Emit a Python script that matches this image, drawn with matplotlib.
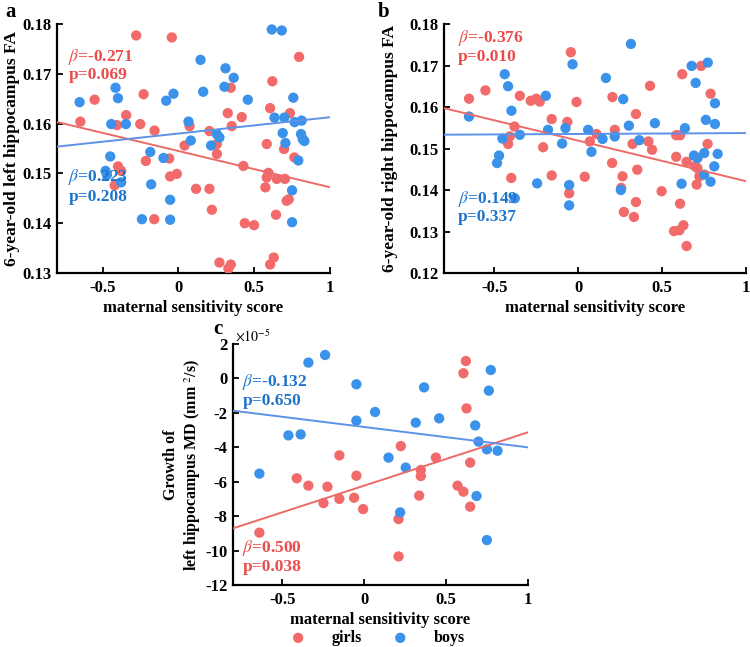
import matplotlib
matplotlib.use("Agg")
import matplotlib.pyplot as plt
import numpy as np

plt.rcParams['font.family'] = ['Liberation Serif', 'DejaVu Serif']
plt.rcParams['mathtext.fontset'] = 'stix'

# ---------------- data ----------------
# Panel a: 6-year-old left hippocampus FA
a_girls_x = [-0.278, -0.043, 0.796, -0.552, -0.229, -0.646, -0.344, -0.405, -0.251, -0.157,
             0.346, 0.326, 0.418, 0.352, 0.620, 0.605, 0.074, 0.205, 0.041, 0.254,
             0.254, 0.736, 0.583, 0.697, 0.765, -0.214, -0.060, -0.398, -0.377, -0.420,
             -0.010, -0.054, -0.159, 0.117, 0.205, 0.221, 0.429, 0.594, 0.583, 0.574,
             0.649, 0.703, 0.714, 0.728, 0.644, 0.438, 0.499, 0.271, 0.346, 0.330,
             0.605, 0.629]
a_girls_y = [0.1777, 0.1773, 0.1734, 0.1648, 0.1659, 0.1604, 0.1617, 0.1597, 0.1599, 0.1586,
             0.1672, 0.1621, 0.1613, 0.1595, 0.1685, 0.1631, 0.1595, 0.1585, 0.1556, 0.1559,
             0.1539, 0.1621, 0.1559, 0.1549, 0.1532, 0.1525, 0.1530, 0.1514, 0.1505, 0.1476,
             0.1499, 0.1494, 0.1408, 0.1469, 0.1469, 0.1427, 0.1515, 0.1501, 0.1492, 0.1472,
             0.1489, 0.1489, 0.1445, 0.1448, 0.1417, 0.1400, 0.1396, 0.1321, 0.1317, 0.1309,
             0.1317, 0.1331]
a_boys_x = [0.616, 0.682, 0.146, 0.311, 0.365, 0.304, -0.414, -0.398, -0.651, -0.080,
            -0.032, 0.164, 0.458, 0.758, -0.442, -0.346, 0.067, 0.082, 0.254, 0.271,
            0.216, 0.634, 0.699, 0.767, 0.813, 0.688, 0.706, 0.809, 0.820, 0.831,
            0.791, -0.449, -0.185, -0.098, -0.480, -0.471, -0.377, -0.179, -0.054, -0.240,
            -0.054, 0.750, 0.750]
a_boys_y = [0.1789, 0.1787, 0.1728, 0.1711, 0.1692, 0.1674, 0.1672, 0.1651, 0.1643, 0.1646,
            0.1660, 0.1664, 0.1648, 0.1652, 0.1599, 0.1599, 0.1604, 0.1566, 0.1579, 0.1572,
            0.1556, 0.1612, 0.1612, 0.1603, 0.1606, 0.1581, 0.1561, 0.1579, 0.1569, 0.1565,
            0.1526, 0.1534, 0.1543, 0.1531, 0.1505, 0.1497, 0.1482, 0.1478, 0.1447, 0.1408,
            0.1407, 0.1466, 0.1402]
a_fit_girls = (0.1545, -0.00728)   # intercept, slope
a_fit_boys = (0.1580, 0.00328)
a_stats = {'girls': ('-0.271', '0.069'), 'boys': ('0.223', '0.208')}

# Panel b: 6-year-old right hippocampus FA
b_girls_x = [-0.651, -0.553, -0.348, -0.283, -0.250, -0.229, -0.044, -0.010, -0.158, -0.065,
             -0.380, -0.408, -0.418, -0.399, -0.209, -0.158, -0.054, 0.039, 0.069, 0.109,
             0.204, 0.218, 0.202, 0.732, 0.620, 0.428, 0.789, 0.344, 0.324, 0.418,
             0.440, 0.584, 0.607, 0.771, 0.584, 0.646, 0.696, 0.710, 0.722, 0.706,
             0.264, 0.352, 0.256, 0.497, 0.344, 0.607, 0.272, 0.332, 0.627, 0.571,
             0.603, 0.646]
b_girls_y = [0.1620, 0.1640, 0.1627, 0.1615, 0.1620, 0.1613, 0.1732, 0.1612, 0.1571, 0.1564,
             0.1553, 0.1529, 0.1511, 0.1429, 0.1503, 0.1435, 0.1392, 0.1432, 0.1517, 0.1535,
             0.1624, 0.1545, 0.1465, 0.1699, 0.1679, 0.1651, 0.1632, 0.1583, 0.1511, 0.1517,
             0.1497, 0.1532, 0.1532, 0.1511, 0.1480, 0.1468, 0.1457, 0.1453, 0.1433, 0.1413,
             0.1433, 0.1449, 0.1405, 0.1397, 0.1371, 0.1367, 0.1347, 0.1335, 0.1315, 0.1301,
             0.1303, 0.1265]
b_boys_x = [-0.651, -0.438, -0.418, -0.398, -0.452, -0.472, -0.484, -0.348, -0.378, -0.245,
            -0.193, -0.180, -0.076, -0.096, -0.034, -0.054, -0.054, 0.059, 0.079, 0.145,
            0.165, 0.218, 0.314, 0.268, 0.302, 0.457, 0.364, 0.676, 0.772, 0.700,
            0.815, 0.761, 0.815, 0.636, 0.690, 0.711, 0.751, 0.831, 0.811, 0.751,
            0.789, 0.616, 0.254]
b_boys_y = [0.1577, 0.1679, 0.1650, 0.1591, 0.1524, 0.1483, 0.1465, 0.1533, 0.1380, 0.1416,
            0.1627, 0.1545, 0.1549, 0.1512, 0.1703, 0.1412, 0.1363, 0.1545, 0.1492, 0.1523,
            0.1670, 0.1529, 0.1752, 0.1619, 0.1555, 0.1561, 0.1520, 0.1699, 0.1707, 0.1658,
            0.1609, 0.1569, 0.1559, 0.1549, 0.1483, 0.1477, 0.1489, 0.1487, 0.1457, 0.1437,
            0.1420, 0.1415, 0.1400]
b_fit_girls = (0.1519, -0.00978)
b_fit_boys = (0.1535, 0.00022)
b_stats = {'girls': ('-0.376', '0.010'), 'boys': ('0.149', '0.337')}

# Panel c: growth of left hippocampus MD (x1e-5 mm^2/s)
c_girls_x = [0.621, 0.606, 0.625, 0.438, 0.224, 0.346, 0.346, 0.336, 0.647, 0.570,
             0.606, 0.647, -0.151, -0.047, -0.411, -0.340, -0.224, -0.248, -0.151, -0.061,
             -0.006, 0.210, 0.210, -0.639]
c_girls_y = [1.01, 0.30, -1.74, -4.60, -3.93, -5.32, -5.67, -6.81, -4.89, -6.23,
             -6.58, -7.45, -4.47, -5.65, -5.80, -6.23, -6.29, -7.24, -7.00, -6.93,
             -7.59, -8.17, -10.34, -8.96]
c_boys_x = [-0.238, -0.340, -0.047, 0.067, -0.047, -0.462, -0.387, -0.639, 0.366, 0.315,
            0.458, 0.149, 0.254, 0.678, 0.698, 0.749, 0.814, 0.773, 0.761, 0.686,
            0.220, 0.749]
c_boys_y = [1.36, 0.92, -0.34, -1.95, -2.45, -3.31, -3.25, -5.53, -0.52, -2.57,
            -2.32, -4.60, -5.18, -2.73, -3.67, -4.12, -4.20, 0.49, -0.71, -6.83,
            -7.78, -9.39]
c_fit_girls = (-6.23, 3.10)
c_fit_boys = (-2.82, -1.183)
c_stats = {'girls': ('0.500', '0.038'), 'boys': ('-0.132', '0.650')}

# ---------------- style ----------------
RED_PT = '#F26A6A'
BLUE_PT = '#3A92EA'
RED_LN = '#EC6B67'
BLUE_LN = '#5E92E6'
RED_TX = '#EA4B4B'
BLUE_TX = '#1E74CC'
XLIM = (-0.8, 1.0)
MS = 55

W, H = 750, 647
fig = plt.figure(figsize=(W / 100, H / 100), dpi=100)


def add_axes_px(l, t, r, b):
    return fig.add_axes([l / W, 1 - b / H, (r - l) / W, (b - t) / H])


def style_ax(ax):
    for s in ['top', 'right']:
        ax.spines[s].set_visible(False)
    for s in ['left', 'bottom']:
        ax.spines[s].set_linewidth(1.6)
    ax.tick_params(direction='in', length=4, width=1.3, labelsize=12)
    ax.tick_params(axis='x', pad=5)
    ax.tick_params(axis='y', pad=4)
    for lab in ax.get_xticklabels() + ax.get_yticklabels():
        lab.set_fontweight('bold')


def draw(ax, gx, gy, bx, by, fg, fb):
    ax.scatter(gx, gy, s=MS, color=RED_PT, edgecolors='none', zorder=3, label='girls')
    ax.scatter(bx, by, s=MS, color=BLUE_PT, edgecolors='none', zorder=3, label='boys')
    xs = np.array(XLIM)
    ax.plot(xs, fg[0] + fg[1] * xs, color=RED_LN, lw=1.4, zorder=4)
    ax.plot(xs, fb[0] + fb[1] * xs, color=BLUE_LN, lw=1.4, zorder=4)
    ax.set_xlim(*XLIM)
    ax.set_xticks([-0.5, 0, 0.5, 1])
    ax.set_xticklabels(['-0.5', '0', '0.5', '1'])
    ax.set_xlabel('maternal sensitivity score', fontsize=12, fontweight='bold', labelpad=3)


def stat_text(ax, x, y1, y2, beta, p, color):
    ax.text(x, y1, r'$\beta$' + '=' + beta, transform=ax.transAxes, color=color,
            fontsize=12.5, fontweight='bold', va='center', ha='left')
    ax.text(x, y2, 'p=' + p, transform=ax.transAxes, color=color,
            fontsize=12.5, fontweight='bold', va='center', ha='left')


# Panel a
axa = add_axes_px(57, 24, 330, 273)
draw(axa, a_girls_x, a_girls_y, a_boys_x, a_boys_y, a_fit_girls, a_fit_boys)
axa.set_ylim(0.13, 0.18)
axa.set_yticks([0.13, 0.14, 0.15, 0.16, 0.17, 0.18])
axa.set_yticklabels(['0.13', '0.14', '0.15', '0.16', '0.17', '0.18'])
axa.set_ylabel('6-year-old left hippocampus FA', fontsize=12.5, fontweight='bold')
axa.yaxis.set_label_coords(-0.135, 0.5)
style_ax(axa)
stat_text(axa, 0.042, 0.867, 0.795, a_stats['girls'][0], a_stats['girls'][1], RED_TX)
stat_text(axa, 0.042, 0.386, 0.305, a_stats['boys'][0], a_stats['boys'][1], BLUE_TX)
fig.text(5 / W, 1 - 12 / H, 'a', fontsize=15, fontweight='bold', va='center')

# Panel b
axb = add_axes_px(444, 24, 746, 273)
draw(axb, b_girls_x, b_girls_y, b_boys_x, b_boys_y, b_fit_girls, b_fit_boys)
axb.set_ylim(0.12, 0.18)
axb.set_yticks([0.12, 0.13, 0.14, 0.15, 0.16, 0.17, 0.18])
axb.set_yticklabels(['0.12', '0.13', '0.14', '0.15', '0.16', '0.17', '0.18'])
axb.set_ylabel('6-year-old right hippocampus FA', fontsize=12.5, fontweight='bold')
axb.yaxis.set_label_coords(-0.152, 0.5)
style_ax(axb)
stat_text(axb, 0.046, 0.944, 0.867, b_stats['girls'][0], b_stats['girls'][1], RED_TX)
stat_text(axb, 0.046, 0.297, 0.225, b_stats['boys'][0], b_stats['boys'][1], BLUE_TX)
fig.text(378 / W, 1 - 12 / H, 'b', fontsize=15, fontweight='bold', va='center')

# Panel c
axc = add_axes_px(233, 344, 528, 585)
draw(axc, c_girls_x, c_girls_y, c_boys_x, c_boys_y, c_fit_girls, c_fit_boys)
axc.set_ylim(-12, 2)
axc.set_yticks([-12, -10, -8, -6, -4, -2, 0, 2])
axc.set_yticklabels(['-12', '-10', '-8', '-6', '-4', '-2', '0', '2'])
axc.set_ylabel('Growth of\n' + r'left hippocampus MD (mm $^{2}$/s)', fontsize=11.5,
               fontweight='bold', multialignment='center', linespacing=1.2)
axc.yaxis.set_label_coords(-0.102, 0.5)
style_ax(axc)
stat_text(axc, 0.032, 0.842, 0.763, c_stats['boys'][0], c_stats['boys'][1], BLUE_TX)
stat_text(axc, 0.032, 0.153, 0.075, c_stats['girls'][0], c_stats['girls'][1], RED_TX)
fig.text(235 / W, 1 - 336 / H, r'$\times 10^{-5}$', fontsize=10, ha='left', va='center')
fig.text(213 / W, 1 - 329 / H, 'c', fontsize=15, fontweight='bold', va='center')

leg = axc.legend(loc='center', bbox_to_anchor=(0.49, -0.22), ncol=2, frameon=False,
                 handlelength=1.0, handletextpad=1.6, columnspacing=1.9,
                 borderpad=0.0, prop={'weight': 'bold', 'size': 11.5})

fig.savefig('out.png', dpi=100)
